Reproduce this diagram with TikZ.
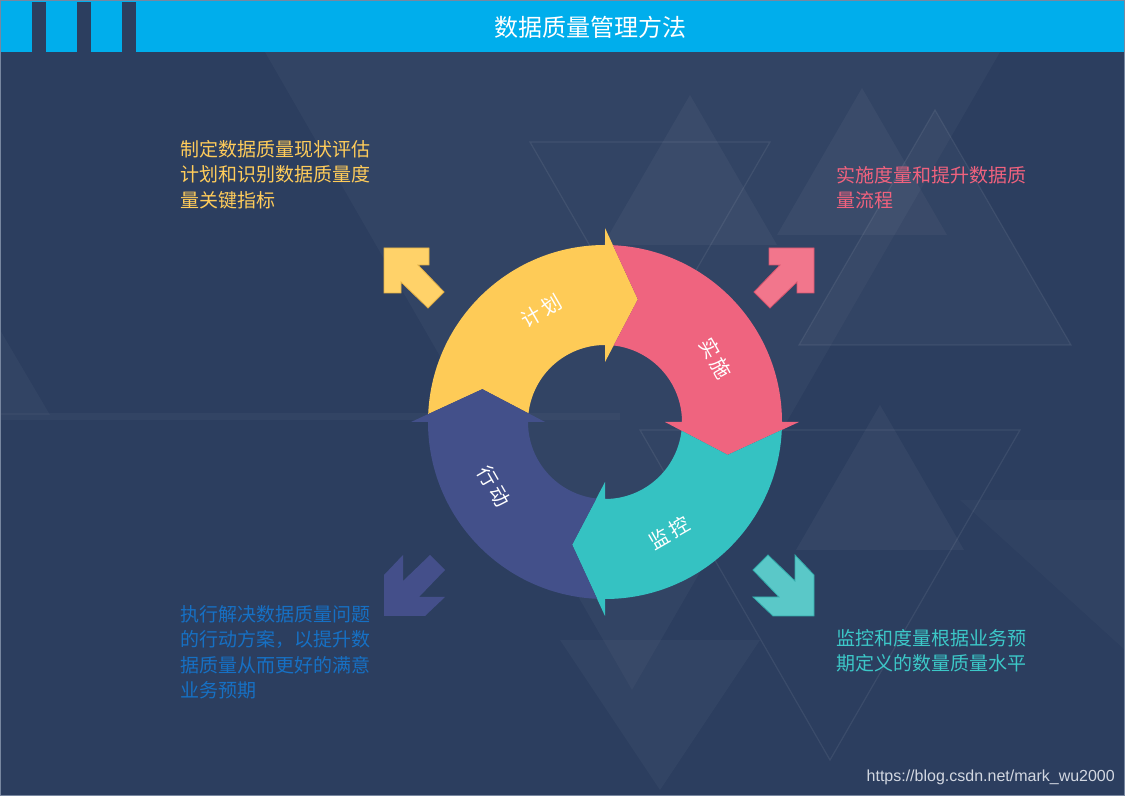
\documentclass[tikz,border=0pt]{standalone}
\usepackage{fontspec}
\newfontfamily\cjk{Noto Sans CJK SC}
\newfontfamily\urlfont{Liberation Sans}
\definecolor{bgc}{RGB}{44,62,95}
\definecolor{hdrc}{RGB}{0,174,236}
\definecolor{segY}{RGB}{254,203,87}
\definecolor{segP}{RGB}{239,100,127}
\definecolor{segT}{RGB}{53,194,194}
\definecolor{segN}{RGB}{67,80,138}
\definecolor{txtY}{RGB}{255,204,90}
\definecolor{txtP}{RGB}{240,98,126}
\definecolor{txtB}{RGB}{22,112,196}
\definecolor{txtT}{RGB}{60,200,200}
\definecolor{arrY}{RGB}{255,210,105}
\definecolor{arrYd}{RGB}{226,176,70}
\definecolor{arrP}{RGB}{242,118,140}
\definecolor{arrPd}{RGB}{214,84,110}
\definecolor{arrN}{RGB}{68,79,138}
\definecolor{arrT}{RGB}{90,200,200}
\definecolor{arrTd}{RGB}{50,170,170}
\definecolor{urlc}{RGB}{210,215,225}
\definecolor{edgec}{RGB}{120,135,160}
\tikzset{
  scr/.style={shift={(0,796)},yscale=-1},
  tri/.style={fill=white,fill opacity=0.04},
  trio/.style={draw=white,draw opacity=0.07,line width=1.2pt},
  seglabel/.style={text=white,font=\cjk\fontsize{20}{20}\selectfont,inner sep=0},
  txt/.style={font=\cjk\fontsize{19}{25.5}\selectfont,align=left,inner sep=0,anchor=north west},
}
\newcommand\ringseg[2]{%
  \fill[#1] ({#2-2.56}:177pt) arc[start angle={#2-2.56}, end angle={#2-90}, radius=177pt]
    -- ({#2-90}:194pt) -- ({#2-105}:127pt) -- ({#2-90}:60pt) -- ({#2-90}:77pt)
    arc[start angle={#2-90}, end angle={#2-6.46}, radius=77pt]
    -- ({#2-15}:127pt) -- cycle;}
\begin{document}
\begin{tikzpicture}[x=1pt,y=1pt]
\useasboundingbox (0,0) rectangle (1125,796);
\fill[bgc] (0,0) rectangle (1125,796);
% background triangles
\begin{scope}[scr]
  \fill[tri,fill opacity=0.03] (265,52) -- (1000,52) -- (632,690) -- cycle;
  \fill[tri] (603,245) -- (690,95) -- (777,245) -- cycle;
  \fill[tri] (777,235) -- (862,88) -- (947,235) -- cycle;
  \fill[tri,fill opacity=0.03] (799,345) -- (935,110) -- (1071,345) -- cycle;
  \draw[trio] (799,345) -- (935,110) -- (1071,345) -- cycle;
  \draw[trio] (530,142) -- (770,142) -- (650,350) -- cycle;
  \fill[tri] (796,550) -- (880,405) -- (964,550) -- cycle;
  \draw[trio] (640,430) -- (1020,430) -- (830,760) -- cycle;
  \fill[tri,fill opacity=0.03] (-50,415) -- (0,330) -- (50,415) -- cycle;
  \fill[tri,fill opacity=0.03] (0,413) rectangle (620,420);
  \fill[tri,fill opacity=0.025] (960,500) -- (1125,500) -- (1125,650) -- cycle;
  \fill[tri,fill opacity=0.03] (560,640) -- (760,640) -- (660,790) -- cycle;
\end{scope}
% header
\fill[hdrc] (0,744) rectangle (1125,796);
\foreach \sx in {32,77,122} \fill[bgc] (\sx,744) rectangle ++(14,50);
\node[text=white,font=\cjk\fontsize{24}{24}\selectfont,inner sep=0] (title) at (590,769) {数据质量管理方法};
% ring
\begin{scope}[shift={(605,374)}]
  \ringseg{segY}{180}
  \ringseg{segP}{90}
  \ringseg{segT}{0}
  \ringseg{segN}{270}
  \node[seglabel,rotate=30] (plan) at (120:128pt) {计\hspace{3pt}划};
  \node[seglabel,rotate=-60] (impl) at (30:128pt) {实\hspace{3pt}施};
  \node[seglabel,rotate=30] (mon) at (-60:128pt) {监\hspace{3pt}控};
  \node[seglabel,rotate=-60] (act) at (210:128pt) {行\hspace{3pt}动};
\end{scope}
% corner arrows
\begin{scope}[shift={(384,548)},yscale=-1]
  \fill[arrY,draw=arrYd,line width=0.8pt] (0,0) -- (45,0) -- (45,17) -- (34,17) -- (60,44) -- (44,60) -- (17,34) -- (17,45) -- (0,45) -- cycle;
\end{scope}
\begin{scope}[shift={(814,548)},xscale=-1,yscale=-1]
  \fill[arrP,draw=arrPd,line width=0.8pt] (0,0) -- (45,0) -- (45,17) -- (34,17) -- (60,44) -- (44,60) -- (17,34) -- (17,45) -- (0,45) -- cycle;
\end{scope}
\begin{scope}[shift={(384,180)},yscale=-1]
  \fill[arrN] (0,0) -- (0,-41) -- (19,-61) -- (19,-35) -- (46,-61) -- (61,-46) -- (35,-19) -- (61,-19) -- (41,0) -- cycle;
\end{scope}
\begin{scope}[shift={(814,180)},xscale=-1,yscale=-1]
  \fill[arrT,draw=arrTd,line width=0.8pt] (0,0) -- (0,-41) -- (19,-61) -- (19,-35) -- (46,-61) -- (61,-46) -- (35,-19) -- (61,-19) -- (41,0) -- cycle;
\end{scope}
% texts
\node[txt,text=txtY] (tl) at (180,656) {制定数据质量现状评估\\计划和识别数据质量度\\量关键指标};
\node[txt,text=txtP] (tr) at (836,630) {实施度量和提升数据质\\量流程};
\node[txt,text=txtB] (bl) at (180,191) {执行解决数据质量问题\\的行动方案，以提升数\\据质量从而更好的满意\\业务预期};
\node[txt,text=txtT] (br) at (836,167) {监控和度量根据业务预\\期定义的数量质量水平};
\node[text=urlc,font=\urlfont\fontsize{16}{16}\selectfont,anchor=east,inner sep=0] (url) at (1115,19) {https://blog.csdn.net/mark\_wu2000};
\draw[edgec,line width=1pt] (0.5,0.5) rectangle (1124.5,795.5);
\end{tikzpicture}
\end{document}
